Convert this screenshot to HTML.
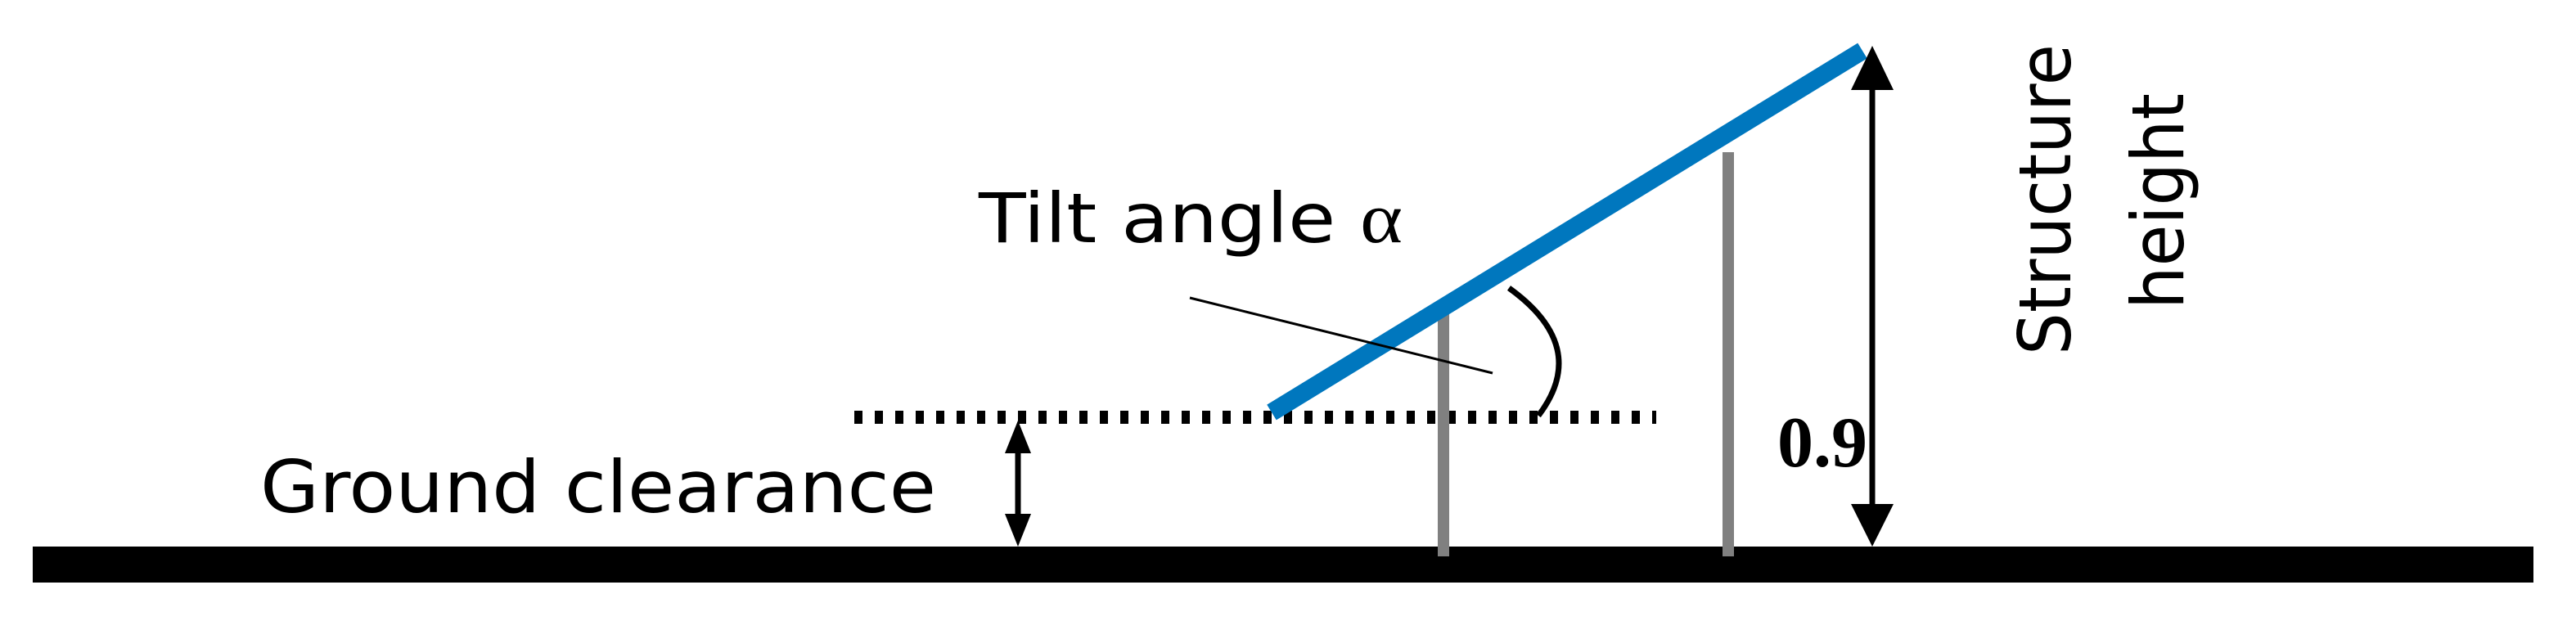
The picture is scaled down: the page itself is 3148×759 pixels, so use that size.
<!DOCTYPE html>
<html><head><meta charset="utf-8"><style>html,body{margin:0;padding:0;background:#fff}svg{display:block}</style></head>
<body>
<svg width="3148" height="759" viewBox="0 0 1574 379.5" xmlns="http://www.w3.org/2000/svg">
<rect x="0" y="0" width="1574" height="380" fill="#fff"/>
<rect x="20" y="334" width="1528" height="22" fill="#000"/>
<line x1="522" y1="255" x2="1012" y2="255" stroke="#000" stroke-width="8" stroke-dasharray="5,7.5"/>
<line x1="882" y1="190" x2="882" y2="340" stroke="#808080" stroke-width="7"/>
<line x1="1056" y1="93" x2="1056" y2="340" stroke="#808080" stroke-width="7"/>
<line x1="777" y1="252" x2="1138" y2="31" stroke="#0077be" stroke-width="11"/>
<line x1="727" y1="182" x2="912" y2="228" stroke="#000" stroke-width="1.5"/>
<path d="M 922 176 Q 972 212 940 254" fill="none" stroke="#000" stroke-width="3.5"/>
<line x1="622" y1="268" x2="622" y2="322" stroke="#000" stroke-width="3.5"/>
<polygon points="622,257 614,277 630,277" fill="#000"/>
<polygon points="622,334 614,314 630,314" fill="#000"/>
<line x1="1144" y1="40" x2="1144" y2="322" stroke="#000" stroke-width="3.5"/>
<polygon points="1144,28 1131,55 1157,55" fill="#000"/>
<polygon points="1144,334 1131,308 1157,308" fill="#000"/>
<text x="598" y="148" font-family="DejaVu Sans, Liberation Sans, sans-serif" font-size="42" fill="#000" textLength="259" lengthAdjust="spacingAndGlyphs">Tilt angle <tspan font-family="Liberation Serif, serif" font-size="44">α</tspan></text>
<text x="159" y="313" font-family="DejaVu Sans, Liberation Sans, sans-serif" font-size="44" fill="#000" textLength="413" lengthAdjust="spacingAndGlyphs">Ground clearance</text>
<text x="1086" y="285" font-family="Liberation Serif, serif" font-weight="bold" font-size="44" fill="#000">0.9</text>
<text transform="translate(1265,122) rotate(-90)" font-family="DejaVu Sans, Liberation Sans, sans-serif" font-size="44" fill="#000" text-anchor="middle" x="0" y="0" textLength="190" lengthAdjust="spacingAndGlyphs">Structure</text>
<text transform="translate(1334,123) rotate(-90)" font-family="DejaVu Sans, Liberation Sans, sans-serif" font-size="44" fill="#000" text-anchor="middle" x="0" y="0" textLength="132" lengthAdjust="spacingAndGlyphs">height</text>
</svg>
</body></html>
